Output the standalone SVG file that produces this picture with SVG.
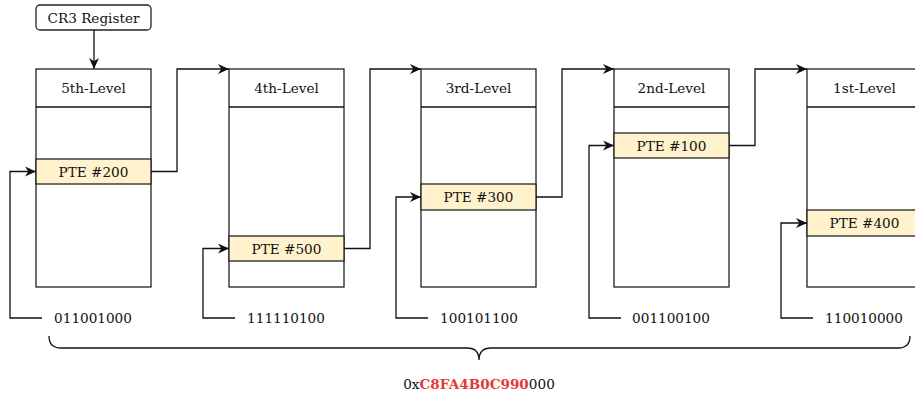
<svg xmlns="http://www.w3.org/2000/svg" width="915" height="396" viewBox="0 0 915 396">
<style>
.box{fill:#fff;stroke:#222;stroke-width:1.3}
.pte{fill:#fff2cc;stroke:#222;stroke-width:1.3}
.t{font-family:"DejaVu Serif",serif;font-size:13.6px;fill:#111;text-anchor:middle;dominant-baseline:central}
.c{fill:none;stroke:#111;stroke-width:1.3}
.red{fill:#e53935;font-weight:bold}
</style>
<defs>
<marker id="a" viewBox="0 0 10 10" refX="10" refY="5" markerWidth="11" markerHeight="10" markerUnits="userSpaceOnUse" orient="auto" preserveAspectRatio="none">
<path d="M0,0 L10,5 L0,10 L3,5 Z" fill="#111"/>
</marker>
</defs>
<g id="cr3">
<rect class="box" x="36" y="5" width="115" height="25" rx="4"/>
<text class="t" x="93.5" y="17.5">CR3 Register</text>
</g>
<g id="level5">
<rect class="box" x="36" y="69" width="115" height="218"/>
<line class="c" x1="36" y1="107" x2="151" y2="107"/>
<text class="t" x="93.5" y="88">5th-Level</text>
<rect class="pte" x="36" y="159" width="115" height="25"/>
<text class="t" x="93.5" y="171.5">PTE #200</text>
</g>
<g id="level4">
<rect class="box" x="229" y="69" width="115" height="218"/>
<line class="c" x1="229" y1="107" x2="344" y2="107"/>
<text class="t" x="286.5" y="88">4th-Level</text>
<rect class="pte" x="229" y="236" width="115" height="25"/>
<text class="t" x="286.5" y="248.5">PTE #500</text>
</g>
<g id="level3">
<rect class="box" x="421" y="69" width="115" height="218"/>
<line class="c" x1="421" y1="107" x2="536" y2="107"/>
<text class="t" x="478.5" y="88">3rd-Level</text>
<rect class="pte" x="421" y="184" width="115" height="26"/>
<text class="t" x="478.5" y="197">PTE #300</text>
</g>
<g id="level2">
<rect class="box" x="614" y="69" width="115" height="218"/>
<line class="c" x1="614" y1="107" x2="729" y2="107"/>
<text class="t" x="671.5" y="88">2nd-Level</text>
<rect class="pte" x="614" y="133" width="115" height="25"/>
<text class="t" x="671.5" y="145.5">PTE #100</text>
</g>
<g id="level1">
<rect class="box" x="807" y="69" width="115" height="218"/>
<line class="c" x1="807" y1="107" x2="922" y2="107"/>
<text class="t" x="864.5" y="88">1st-Level</text>
<rect class="pte" x="807" y="210" width="115" height="26"/>
<text class="t" x="864.5" y="223">PTE #400</text>
</g>
<g id="labels">
<text class="t" x="93" y="318">011001000</text>
<text class="t" x="286" y="318">111110100</text>
<text class="t" x="479" y="318">100101100</text>
<text class="t" x="671" y="318">001100100</text>
<text class="t" x="864" y="318">110010000</text>
<text class="t" x="479" y="384">0x<tspan class="red">C8FA4B0C990</tspan>000</text>
</g>
<g id="connectors">
<path class="c" d="M94,30 V69" marker-end="url(#a)"/>
<path class="c" d="M151,171.5 H177 V69 H229" marker-end="url(#a)"/>
<path class="c" d="M344,248.5 H370 V69 H421" marker-end="url(#a)"/>
<path class="c" d="M536,197 H562 V69 H614" marker-end="url(#a)"/>
<path class="c" d="M729,145.5 H755 V69 H807" marker-end="url(#a)"/>
<path class="c" d="M42,318 H10 V171.5 H36" marker-end="url(#a)"/>
<path class="c" d="M235,318 H203 V248.5 H229" marker-end="url(#a)"/>
<path class="c" d="M428,318 H396 V197 H421" marker-end="url(#a)"/>
<path class="c" d="M621,318 H589 V145.5 H614" marker-end="url(#a)"/>
<path class="c" d="M813,318 H781 V223 H807" marker-end="url(#a)"/>
<path class="c" d="M49,336 Q49,348 61,348 H467 Q479,348 479,360 Q479,348 491,348 H898 Q910,348 910,336"/>
</g>
</svg>
